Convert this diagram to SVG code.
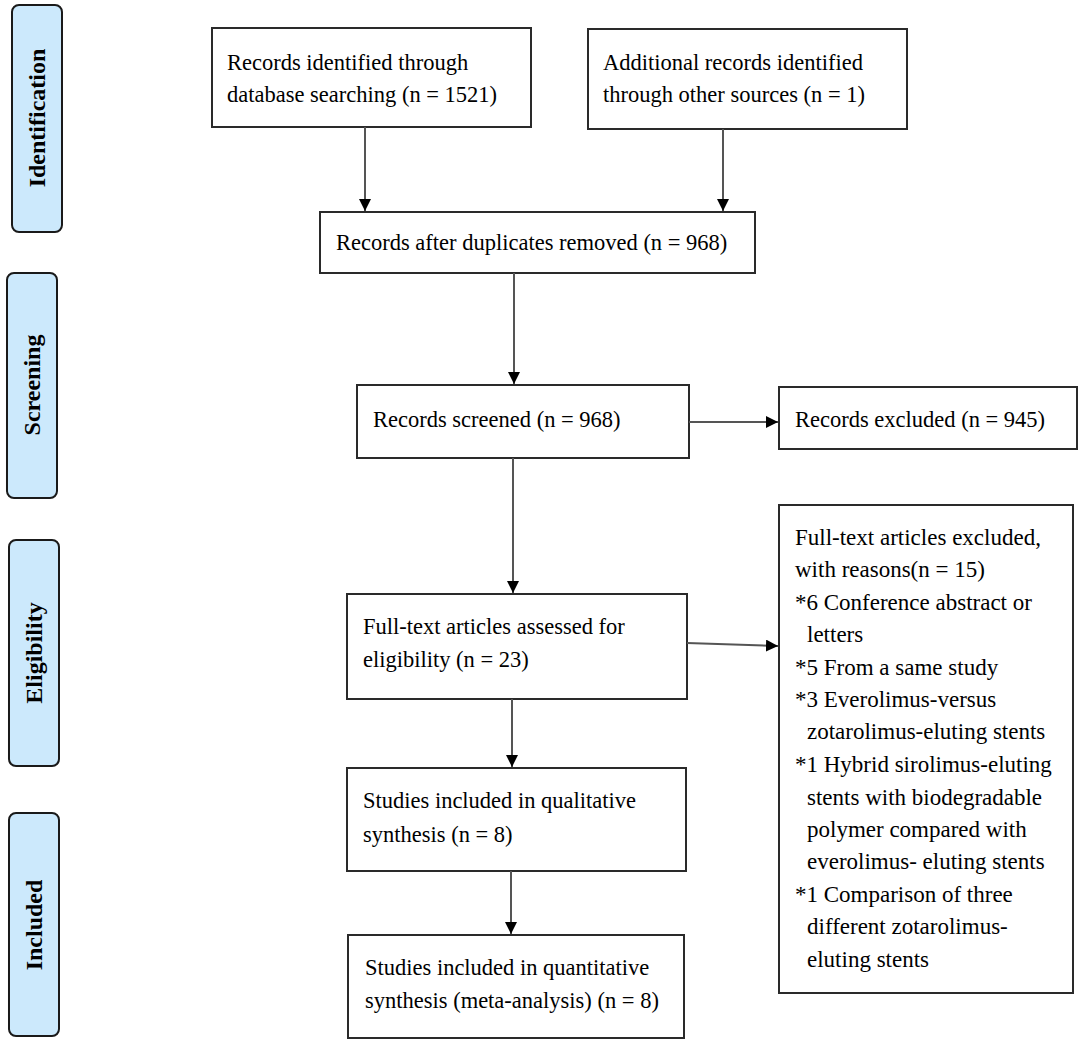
<svg xmlns="http://www.w3.org/2000/svg" width="1084" height="1047" viewBox="0 0 1084 1047">
<style>
.phase rect{fill:#cce9fc;stroke:#1a1a1a;stroke-width:2}
.phase text{font-family:"Liberation Serif","Times New Roman",serif;font-weight:bold;font-size:24px;fill:#000;text-anchor:middle}
.node rect{fill:#fff;stroke:#2a2a2a;stroke-width:2}
.node text{font-family:"Liberation Serif","Times New Roman",serif;font-size:22.5px;fill:#000}
#node-ftexcluded text{font-size:23px}
.conn line{stroke:#555;stroke-width:2;marker-end:url(#ah)}
</style>
<defs>
<marker id="ah" viewBox="0 0 10 10" refX="10" refY="5" markerWidth="6" markerHeight="6" markerUnits="strokeWidth" orient="auto">
<path d="M0,0 L10,5 L0,10 z" fill="#000"/>
</marker>
</defs>
<rect width="1084" height="1047" fill="#fff"/>
<g id="phase-identification" class="phase">
<rect x="12" y="5" width="50" height="227" rx="7"/>
<text transform="translate(45,118) rotate(-90)">Identification</text>
</g>
<g id="phase-screening" class="phase">
<rect x="7" y="273" width="50" height="225" rx="7"/>
<text transform="translate(40,385) rotate(-90)">Screening</text>
</g>
<g id="phase-eligibility" class="phase">
<rect x="9" y="540" width="50" height="226" rx="7"/>
<text transform="translate(42,653) rotate(-90)">Eligibility</text>
</g>
<g id="phase-included" class="phase">
<rect x="9" y="813" width="50" height="223" rx="7"/>
<text transform="translate(42,925) rotate(-90)">Included</text>
</g>
<g id="node-db" class="node">
<rect x="212" y="28" width="319" height="99"/>
<text x="227" y="70">Records identified through</text>
<text x="227" y="102">database searching (n = 1521)</text>
</g>
<g id="node-other" class="node">
<rect x="588" y="29" width="319" height="100"/>
<text x="603" y="70">Additional records identified</text>
<text x="603" y="102">through other sources (n = 1)</text>
</g>
<g id="node-dup" class="node">
<rect x="320" y="212" width="435" height="61"/>
<text x="336" y="250">Records after duplicates removed (n = 968)</text>
</g>
<g id="node-screened" class="node">
<rect x="357" y="385" width="332" height="73"/>
<text x="373" y="427">Records screened (n = 968)</text>
</g>
<g id="node-excluded" class="node">
<rect x="779" y="387" width="298" height="62"/>
<text x="795" y="427">Records excluded (n = 945)</text>
</g>
<g id="node-fulltext" class="node">
<rect x="347" y="594" width="340" height="105"/>
<text x="363" y="634">Full-text articles assessed for</text>
<text x="363" y="667">eligibility (n = 23)</text>
</g>
<g id="node-ftexcluded" class="node">
<rect x="779" y="505" width="294" height="488"/>
<text x="795" y="545">Full-text articles excluded,</text>
<text x="795" y="577">with reasons(n = 15)</text>
<text x="795" y="610">*6 Conference abstract or</text>
<text x="807" y="642">letters</text>
<text x="795" y="675">*5 From a same study</text>
<text x="795" y="707">*3 Everolimus-versus</text>
<text x="807" y="739">zotarolimus-eluting stents</text>
<text x="795" y="772">*1 Hybrid sirolimus-eluting</text>
<text x="807" y="805">stents with biodegradable</text>
<text x="807" y="837">polymer compared with</text>
<text x="807" y="869">everolimus- eluting stents</text>
<text x="795" y="902">*1 Comparison of three</text>
<text x="807" y="934">different zotarolimus-</text>
<text x="807" y="967">eluting stents</text>
</g>
<g id="node-qual" class="node">
<rect x="347" y="768" width="339" height="103"/>
<text x="363" y="808">Studies included in qualitative</text>
<text x="363" y="842">synthesis (n = 8)</text>
</g>
<g id="node-quant" class="node">
<rect x="348" y="935" width="336" height="103"/>
<text x="365" y="975">Studies included in quantitative</text>
<text x="365" y="1008">synthesis (meta-analysis) (n = 8)</text>
</g>
<g id="connectors" class="conn">
<line x1="365" y1="127" x2="365" y2="211"/>
<line x1="723" y1="129" x2="723" y2="211"/>
<line x1="514" y1="273" x2="514" y2="384"/>
<line x1="689" y1="422" x2="778" y2="422"/>
<line x1="513" y1="458" x2="513" y2="593"/>
<line x1="687" y1="643" x2="778" y2="646"/>
<line x1="512" y1="699" x2="512" y2="767"/>
<line x1="511" y1="871" x2="511" y2="934"/>
</g>
</svg>
